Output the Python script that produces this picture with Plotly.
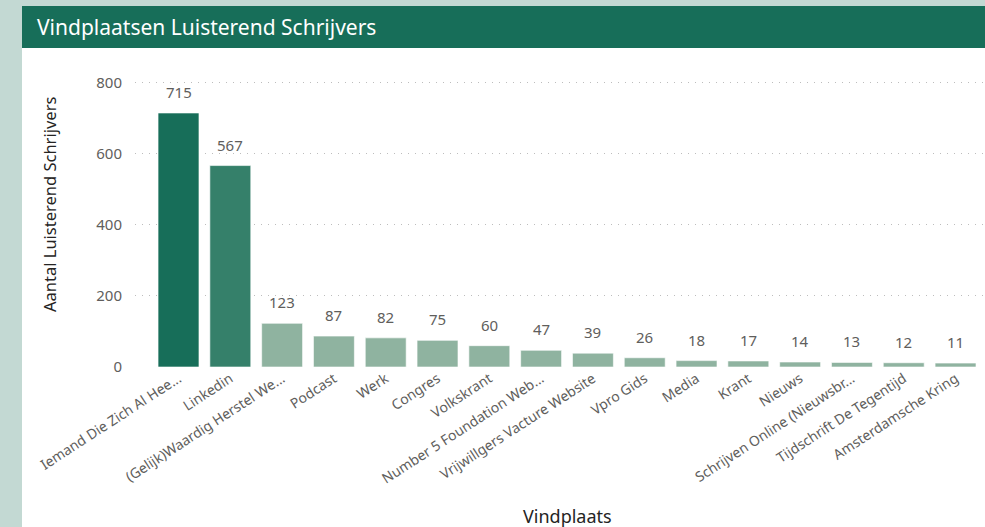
import plotly.graph_objects as go

categories = ["Iemand Die Zich Al Hee...", "Linkedin", "(Gelijk)Waardig Herstel We...", "Podcast", "Werk",
              "Congres", "Volkskrant", "Number 5 Foundation Web...", "Vrijwillgers Vacture Website",
              "Vpro Gids", "Media", "Krant", "Nieuws", "Schrijven Online (Nieuwsbr...",
              "Tijdschrift De Tegentijd", "Amsterdamsche Kring"]
values = [715, 567, 123, 87, 82, 75, 60, 47, 39, 26, 18, 17, 14, 13, 12, 11]
bar_colors = ["#176e59", "#35806a"] + ["#8fb3a0"] * 14
y_ticks = [0, 200, 400, 600, 800]

W, H = 985, 527
L, R, T, B = 135, 2, 70, 160

def px(x):
    return (x - L) / (W - L - R)

def py(y):
    return (H - B - y) / (H - B - T)

FONT = "Segoe UI, Noto Sans, sans-serif"

xs = list(range(len(categories)))

fig = go.Figure(go.Bar(
    x=xs,
    y=values,
    marker=dict(color=bar_colors, line=dict(color="rgba(255,255,255,0.6)", width=1)),
    width=0.79,
    hoverinfo="skip",
))

value_labels = [
    dict(x=x, y=v, xref="x", yref="y", text=str(v), showarrow=False,
         yanchor="bottom", xanchor="center", yshift=9,
         font=dict(family=FONT, size=15, color="#605e5c"))
    for x, v in zip(xs, values)
]

fig.update_layout(
    width=W, height=H,
    margin=dict(l=L, r=R, t=T, b=B),
    paper_bgcolor="#c3d9d3",
    plot_bgcolor="rgba(0,0,0,0)",
    showlegend=False,
    font=dict(family=FONT, color="#605e5c"),
    xaxis=dict(
        range=[-0.84, 15.53],
        tickmode="array",
        tickvals=xs,
        ticktext=categories,
        tickangle=-33,
        tickfont=dict(size=14, color="#605e5c"),
        showgrid=False, zeroline=False, showline=False, ticks="",
    ),
    yaxis=dict(
        range=[0, 836],
        tickmode="array",
        tickvals=y_ticks,
        tickfont=dict(size=15, color="#605e5c"),
        showgrid=True, gridcolor="#bdbdbd", griddash="1px,6px", gridwidth=1.3,
        zeroline=False, showline=False, ticks="", ticklabelstandoff=12,
    ),
    shapes=[
        dict(type="rect", xref="paper", yref="paper", x0=px(22), x1=px(W + 5), y0=py(H + 5), y1=py(6),
             fillcolor="white", line=dict(width=0), layer="below"),
        dict(type="rect", xref="paper", yref="paper", x0=px(22), x1=px(W + 5), y0=py(48), y1=py(6),
             fillcolor="#176e59", line=dict(width=0), layer="below"),
    ],
    annotations=value_labels + [
        dict(text="Vindplaatsen Luisterend Schrijvers", xref="paper", yref="paper",
             x=px(35), y=py(27), xanchor="left", yanchor="middle", showarrow=False,
             font=dict(family=FONT, size=21, color="white")),
        dict(text="Aantal Luisterend Schrijvers", xref="paper", yref="paper",
             x=px(49), y=py(205), xanchor="center", yanchor="middle", textangle=-90, showarrow=False,
             font=dict(family=FONT, size=16.5, color="#252423")),
        dict(text="Vindplaats", xref="paper", yref="paper",
             x=px(567), y=py(516), xanchor="center", yanchor="middle", showarrow=False,
             font=dict(family=FONT, size=18, color="#252423")),
    ],
)

fig.write_html("out.html", config={"displayModeBar": False},
               post_script="document.body.style.margin='0';document.body.style.overflow='hidden';")
